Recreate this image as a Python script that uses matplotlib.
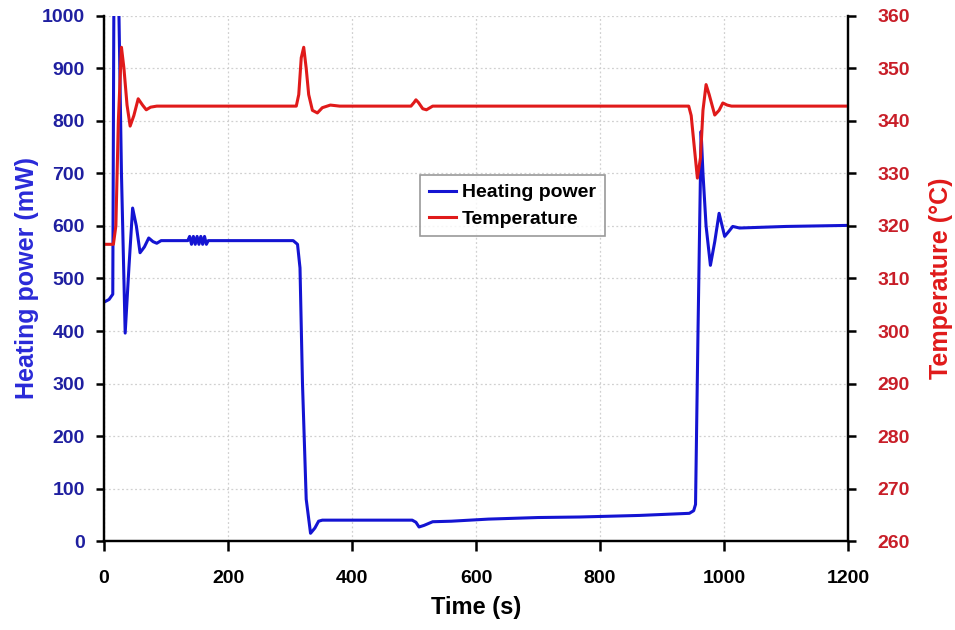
import numpy as np
import matplotlib
matplotlib.use("Agg")
import matplotlib.pyplot as plt

# heating power trace
power_t = [0, 8, 14, 16, 19, 24, 28, 34, 40, 46, 52, 58, 65, 72, 79, 85, 92, 100,
           135, 138, 141, 144, 147, 150, 153, 156, 159, 162, 165, 168,
           200, 250, 305, 312, 316, 320, 326, 333, 340, 346, 352, 400, 450,
           497, 503, 508, 516, 530, 560, 620, 700, 767, 864, 944, 951, 954,
           958, 963, 966, 971, 978, 985, 992, 1001, 1008, 1014, 1025, 1100, 1200]
power = [455, 460, 470, 1100, 1150, 1000, 700, 396, 520, 634, 600, 549, 560, 577, 570, 567, 572, 572,
         572, 580, 565, 580, 565, 580, 565, 580, 565, 580, 565, 572,
         572, 572, 572, 565, 520, 300, 80, 15, 25, 38, 40, 40, 40,
         40, 36, 27, 30, 37, 38, 42, 45, 46, 49, 53, 58, 70,
         400, 780, 700, 600, 525, 570, 624, 580, 590, 599, 596, 599, 601]

# temperature trace
temp_t = [0, 15, 19, 23, 28, 32, 37, 42, 48, 55, 62, 68, 75, 85, 200,
          310, 314, 318, 322, 326, 330, 336, 344, 352, 365, 380,
          495, 500, 503, 507, 514, 520, 530, 700,
          943, 947, 952, 957, 962, 966, 971, 976, 985, 992, 998, 1005, 1012, 1200]
temp = [316.5, 316.5, 320, 340, 354, 350, 343, 339, 341, 344.2, 343, 342.1, 342.6, 342.8, 342.8,
        342.8, 345, 352, 354, 350, 345, 342, 341.5, 342.5, 343, 342.8,
        342.8, 343.5, 344, 343.5, 342.3, 342.1, 342.8, 342.8,
        342.8, 341, 335, 329.1, 333, 342, 346.9, 345, 341.1, 342, 343.4, 343, 342.8, 342.8]

x_ticks = [0, 200, 400, 600, 800, 1000, 1200]
p_ticks = [0, 100, 200, 300, 400, 500, 600, 700, 800, 900, 1000]
t_ticks = [260, 270, 280, 290, 300, 310, 320, 330, 340, 350, 360]

blue = "#1414d2"
red = "#e01a1a"

plt.rcParams['font.family'] = ['Liberation Sans', 'DejaVu Sans']

fig = plt.figure(figsize=(9.55, 6.3), dpi=100)
ax = fig.add_axes([0.109, 0.141, 0.779, 0.834])
ax2 = ax.twinx()

l1, = ax.plot(power_t, power, color=blue, lw=2.2, solid_joinstyle='round', label="Heating power")
l2, = ax2.plot(temp_t, temp, color=red, lw=2.2, solid_joinstyle='round', label="Temperature")

ax.set_xlim(0, 1200)
ax.set_ylim(0, 1000)
ax2.set_ylim(260, 360)
ax.set_xticks(x_ticks)
ax.set_yticks(p_ticks)
ax2.set_yticks(t_ticks)

ax.grid(True, color="#d0d0d0", linestyle=(0, (1.5, 2)), linewidth=0.9)

for a in (ax, ax2):
    a.spines['top'].set_visible(False)
    for s in a.spines.values():
        s.set_linewidth(1.6)

ax.tick_params(axis='y', colors="#1f1fa0", labelsize=14, length=6, width=1.8, pad=8)
ax.tick_params(axis='x', colors="black", labelsize=14, length=7, width=1.8, pad=14)
ax2.tick_params(axis='y', colors="#c81e28", labelsize=14, length=6, width=1.8, pad=15)
for lab in ax.get_xticklabels() + ax.get_yticklabels() + ax2.get_yticklabels():
    lab.set_fontweight('bold')
ax.tick_params(axis='y', which='both', color='black')
ax2.tick_params(axis='y', which='both', color='black')

ax.set_xlabel("Time (s)", fontsize=17, fontweight='bold', labelpad=6)
ax.set_ylabel("Heating power (mW)", fontsize=18, fontweight='bold', color="#2a2ad8", labelpad=2)
ax2.set_ylabel("Temperature (°C)", fontsize=18, fontweight='bold', color=red, labelpad=14)

leg = ax2.legend([l1, l2], ["Heating power", "Temperature"], loc='upper left',
                 bbox_to_anchor=(0.425, 0.697), borderaxespad=0, fancybox=False,
                 edgecolor="#808080", handlelength=1.4, handletextpad=0.3,
                 borderpad=0.45, labelspacing=0.45,
                 prop={'weight': 'bold', 'size': 14})
leg.get_frame().set_linewidth(1.2)

fig.savefig("out.png", dpi=100)
